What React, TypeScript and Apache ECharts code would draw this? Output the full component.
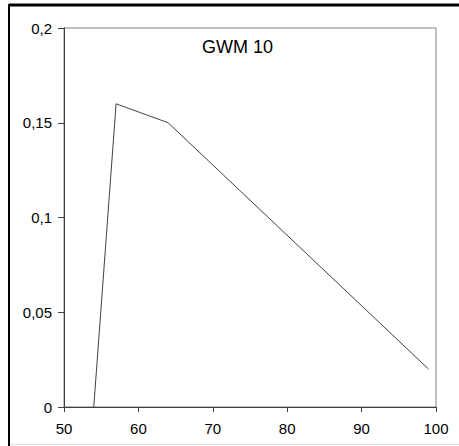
import React, { useEffect, useRef } from "react";
import * as echarts from "echarts";

const xValues = [54, 57, 64, 99];
const yValues = [0, 0.16, 0.15, 0.02];
const titleText = "GWM 10";

export default function App() {
  const ref = useRef<HTMLDivElement>(null);
  useEffect(() => {
    document.body.style.margin = "0";
    const chart = echarts.init(ref.current!, undefined, { renderer: "svg" });
    const font = "Liberation Sans, Arial, sans-serif";
    chart.setOption({
      animation: false,
      backgroundColor: "#ffffff",
      grid: {
        left: 64,
        right: 23,
        top: 28,
        bottom: 39,
        show: true,
        borderColor: "#808080",
        borderWidth: 1,
      },
      graphic: [
        {
          type: "line",
          shape: { x1: 9, y1: 5, x2: 459, y2: 5 },
          style: { stroke: "#000", lineWidth: 3 },
        },
        {
          type: "line",
          shape: { x1: 9, y1: 4, x2: 9, y2: 446 },
          style: { stroke: "#000", lineWidth: 2 },
        },
        {
          type: "line",
          shape: { x1: 10, y1: 444.5, x2: 459, y2: 444.5 },
          style: { stroke: "#dddddd", lineWidth: 1 },
        },
        {
          type: "text",
          left: 202,
          top: 38,
          style: {
            text: titleText,
            font: `18px ${font}`,
            fill: "#000",
          },
        },
      ],
      xAxis: {
        type: "value",
        min: 50,
        max: 100,
        interval: 10,
        splitLine: { show: false },
        axisLine: { show: true, lineStyle: { color: "#404040", width: 1 } },
        axisTick: { show: true, inside: false, length: 5, lineStyle: { color: "#404040" } },
        axisLabel: { color: "#000", fontSize: 15, fontFamily: font, margin: 14 },
      },
      yAxis: {
        type: "value",
        min: 0,
        max: 0.2,
        interval: 0.05,
        splitLine: { show: false },
        axisLine: { show: true, lineStyle: { color: "#404040", width: 1 } },
        axisTick: { show: true, inside: false, length: 6, lineStyle: { color: "#404040" } },
        axisLabel: {
          color: "#000",
          fontSize: 15,
          fontFamily: font,
          margin: 12,
          formatter: (v: number) => String(Number(v.toFixed(2))).replace(".", ","),
        },
      },
      series: [
        {
          type: "line",
          data: xValues.map((x, i) => [x, yValues[i]]),
          symbol: "none",
          lineStyle: { color: "#404040", width: 1 },
        },
      ],
    });
    return () => chart.dispose();
  }, []);
  return (
    <div
      ref={ref}
      style={{ position: "fixed", left: 0, top: 0, width: 459, height: 446 }}
    />
  );
}
